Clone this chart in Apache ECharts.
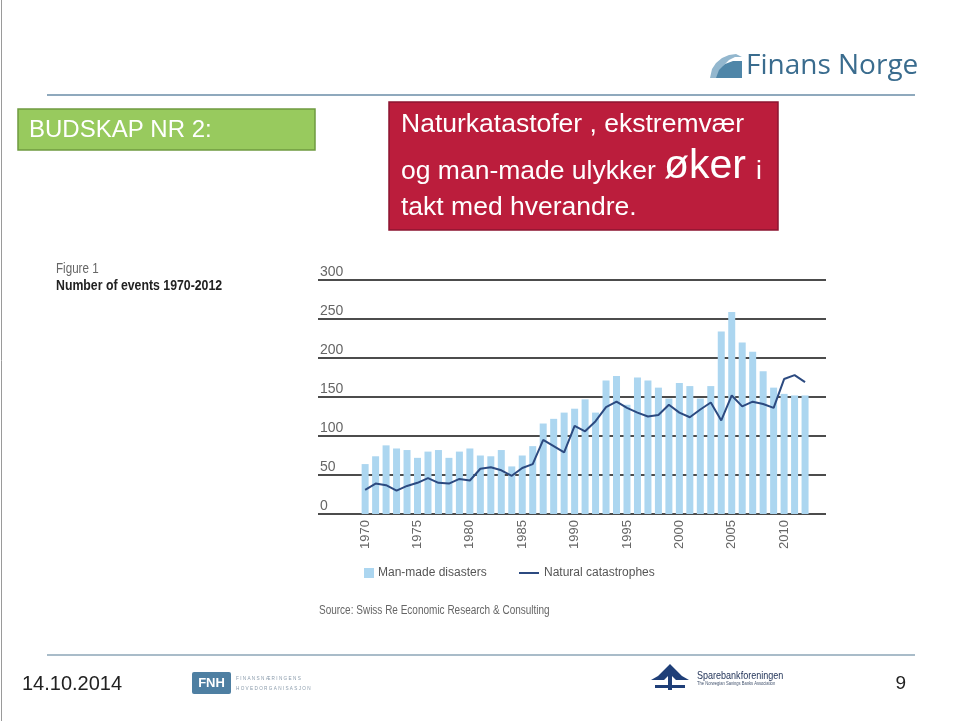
<!DOCTYPE html>
<html>
<head>
<meta charset="utf-8">
<script src="https://cdn.jsdelivr.net/npm/echarts@6/dist/echarts.min.js"></script>
<style>html,body{margin:0;padding:0;background:#fff;}#c{width:960px;height:721px;}</style>
</head>
<body>
<div id="c"></div>
<script>
// ---- data ----
var years = [];
for (var y = 1970; y <= 2012; y++) years.push(y);
var manMade = [64, 74, 88, 84, 82, 72, 80, 82, 72, 80,
               84, 75, 74, 82, 61, 75, 87, 116, 122, 130,
               135, 147, 130, 171, 177, 140, 175, 171, 162, 148,
               168, 164, 148, 164, 234, 259, 220, 208, 183, 162,
               154, 152, 152];
var natural = [31, 39, 37, 30, 36, 40, 46, 40, 39, 45,
               43, 58, 60, 56, 49, 59, 64, 95, 87, 79,
               113, 106, 119, 137, 144, 136, 130, 125, 127, 140,
               130, 124, 134, 143, 120, 152, 138, 144, 141, 136,
               173, 178, 169];
var xTickLabels = [1970, 1975, 1980, 1985, 1990, 1995, 2000, 2005, 2010];

var chart = echarts.init(document.getElementById('c'), null, {renderer: 'canvas'});
var chartFont = "'Liberation Sans',Arial,sans-serif";
var slideFont = "'Liberation Sans',Arial,sans-serif";

var option = {
  backgroundColor: '#fff',
  animation: false,
  grid: {left: 318, right: 134, top: 280, bottom: 207},
  xAxis: {
    type: 'value', min: 1965.5, max: 2014,
    axisLine: {show: false}, axisTick: {show: false}, splitLine: {show: false},
    axisLabel: {
      customValues: xTickLabels, rotate: 90, margin: 6,
      color: '#666', fontSize: 13, fontFamily: chartFont,
      formatter: function (v) { return String(v); }
    }
  },
  yAxis: {
    type: 'value', min: 0, max: 300, interval: 50,
    axisLine: {show: false}, axisTick: {show: false},
    splitLine: {show: true, lineStyle: {color: '#111', width: 1.5}},
    axisLabel: {
      inside: true, margin: 2, verticalAlign: 'bottom', padding: [0, 0, 1, 0],
      color: '#666', fontSize: 14, fontFamily: chartFont
    }
  },
  legend: [{
    data: ['Man-made disasters'], left: 359, top: 562, icon: 'rect',
    itemWidth: 10, itemHeight: 10, itemGap: 5,
    textStyle: {color: '#555', fontSize: 12, fontFamily: chartFont, padding: [0, 0, 0, -1]}
  }, {
    data: ['Natural catastrophes'], left: 514, top: 562, icon: 'rect',
    itemWidth: 20, itemHeight: 2,
    textStyle: {color: '#555', fontSize: 12, fontFamily: chartFont}
  }],
  series: [{
    name: 'Man-made disasters', type: 'bar', barWidth: 7,
    itemStyle: {color: '#acd6f0'},
    data: years.map(function (yr, i) { return [yr, manMade[i]]; })
  }, {
    name: 'Natural catastrophes', type: 'line', symbol: 'none', z: 5,
    lineStyle: {color: '#2c4a80', width: 2},
    itemStyle: {color: '#2c4a80'},
    data: years.map(function (yr, i) { return [yr, natural[i]]; })
  }],
  graphic: [
    {type: 'line', shape: {x1: 1.5, y1: 0, x2: 1.5, y2: 721}, style: {stroke: '#9a9a9a', lineWidth: 1}},
    {type: 'line', shape: {x1: 47, y1: 95, x2: 915, y2: 95}, style: {stroke: '#8fa9bd', lineWidth: 2}},
    {type: 'line', shape: {x1: 47, y1: 655, x2: 915, y2: 655}, style: {stroke: '#a9bcc9', lineWidth: 2}},
    // Finans Norge logo
    {type: 'polygon', shape: {points: [[710,78],[712,69],[716,63],[722,58],[729,55],[736,54],[742,57],[735,57],[729,60],[724,65],[721,72],[720,78]]},
      style: {fill: '#93b7ce'}},
    {type: 'polygon', shape: {points: [[716,78],[719,70],[725,64],[733,61],[742,61],[742,78]]},
      style: {fill: '#4f86a8'}},
    {type: 'text', x: 746, y: 80, style: {text: 'Finans Norge', fill: '#3a6c8e', fontSize: 28,
      fontFamily: "'Open Sans',sans-serif", verticalAlign: 'bottom', align: 'left'}},
    // green box
    {type: 'rect', shape: {x: 18, y: 109, width: 297, height: 41},
      style: {fill: '#98ca5e', stroke: '#6f9b40', lineWidth: 1.5}},
    {type: 'text', x: 29, y: 130, style: {text: 'BUDSKAP NR 2:', fill: '#fff', fontSize: 24,
      fontFamily: slideFont, verticalAlign: 'middle'}},
    // red box
    {type: 'rect', shape: {x: 389, y: 102, width: 389, height: 128},
      style: {fill: '#bb1d3c', stroke: '#8c1530', lineWidth: 1.5}},
    {type: 'text', x: 401, y: 125, style: {text: 'Naturkatastofer , ekstremvær', fill: '#fff', fontSize: 26.5,
      fontFamily: slideFont, verticalAlign: 'middle'}},
    {type: 'text', x: 401, y: 172, style: {text: 'og man-made ulykker', fill: '#fff', fontSize: 26.5,
      fontFamily: slideFont, verticalAlign: 'middle'}},
    {type: 'text', x: 664, y: 167, style: {text: 'øker', fill: '#fff', fontSize: 41,
      fontFamily: slideFont, verticalAlign: 'middle'}},
    {type: 'text', x: 756, y: 172, style: {text: 'i', fill: '#fff', fontSize: 26.5,
      fontFamily: slideFont, verticalAlign: 'middle'}},
    {type: 'text', x: 401, y: 208, style: {text: 'takt med hverandre.', fill: '#fff', fontSize: 26.5,
      fontFamily: slideFont, verticalAlign: 'middle'}},
    // figure caption
    {type: 'text', x: 56, y: 269, scaleX: 0.83, style: {text: 'Figure 1', fill: '#666', fontSize: 14,
      fontFamily: chartFont, verticalAlign: 'middle'}},
    {type: 'text', x: 56, y: 286, scaleX: 0.82, style: {text: 'Number of events 1970-2012', fill: '#222', fontSize: 15,
      fontWeight: 'bold', fontFamily: chartFont, verticalAlign: 'middle'}},
    {type: 'text', x: 319, y: 611, scaleX: 0.8, style: {text: 'Source: Swiss Re Economic Research & Consulting', fill: '#666',
      fontSize: 12.5, fontFamily: chartFont, verticalAlign: 'middle'}},
    // footer
    {type: 'text', x: 22, y: 684, style: {text: '14.10.2014', fill: '#222', fontSize: 20,
      fontFamily: slideFont, verticalAlign: 'middle'}},
    {type: 'text', x: 906, y: 684, style: {text: '9', fill: '#222', fontSize: 19, align: 'right',
      fontFamily: slideFont, verticalAlign: 'middle'}},
    {type: 'rect', shape: {x: 192, y: 672, width: 39, height: 22, r: 2}, style: {fill: '#4e7fa2'}},
    {type: 'text', x: 211.5, y: 683.5, style: {text: 'FNH', fill: '#fff', fontSize: 13, fontWeight: 'bold',
      align: 'center', fontFamily: slideFont, verticalAlign: 'middle'}},
    {type: 'text', x: 236, y: 678, scaleX: 0.78, style: {text: 'F I N A N S N Æ R I N G E N S', fill: '#8a9bab', fontSize: 6,
      fontFamily: slideFont, verticalAlign: 'middle'}},
    {type: 'text', x: 236, y: 688, scaleX: 0.78, style: {text: 'H O V E D O R G A N I S A S J O N', fill: '#8a9bab', fontSize: 6,
      fontFamily: slideFont, verticalAlign: 'middle'}},
    // Sparebankforeningen logo
    {type: 'polygon', shape: {points: [[670,664],[658,676],[651,680],[664,680],[670,674],[676,680],[689,680],[682,676]]},
      style: {fill: '#1f3f78'}},
    {type: 'rect', shape: {x: 668, y: 672, width: 4, height: 18}, style: {fill: '#1f3f78'}},
    {type: 'rect', shape: {x: 655, y: 685, width: 30, height: 3}, style: {fill: '#1f3f78'}},
    {type: 'text', x: 697, y: 676, scaleX: 0.82, style: {text: 'Sparebankforeningen', fill: '#1d2f55', fontSize: 11,
      fontFamily: chartFont, verticalAlign: 'middle'}},
    {type: 'text', x: 697, y: 684, scaleX: 0.82, style: {text: 'The Norwegian Savings Banks Association', fill: '#44546f', fontSize: 5,
      fontFamily: chartFont, verticalAlign: 'middle'}}
  ]
};
chart.setOption(option);
</script>
</body>
</html>
